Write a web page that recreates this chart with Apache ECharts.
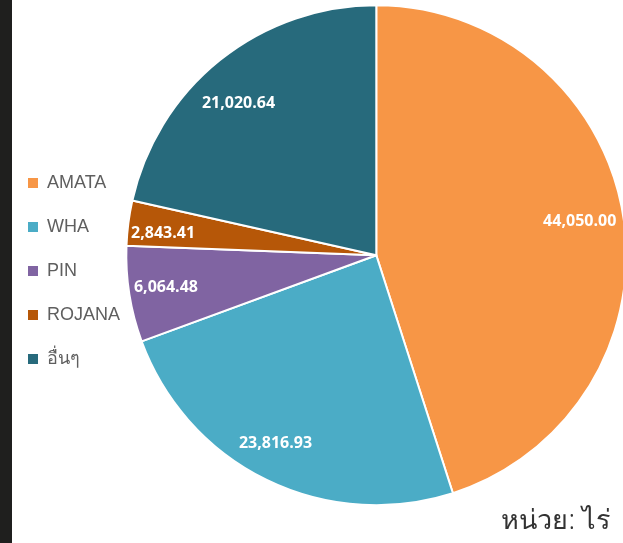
<!DOCTYPE html>
<html><head><meta charset="utf-8">
<script src="https://cdn.jsdelivr.net/npm/echarts@6/dist/echarts.min.js"></script>
<style>html,body{margin:0;padding:0;background:#fff}#c{width:623px;height:543px}</style>
</head><body><div id="c"></div>
<script>
const categories = ['AMATA', 'WHA', 'PIN', 'ROJANA', 'อื่นๆ'];
const values = [44050.00, 23816.93, 6064.48, 2843.41, 21020.64];
const colors = ['#F79646', '#4BACC6', '#8064A2', '#B65708', '#276A7C'];
const unitText = 'หน่วย: ไร่';

// label nudges (styling, per slice index)
const labelNudge = [[-8, -1], [-7, -4], [1, -1], [-1, 6], [-4, 15]];

const data = categories.map((n, i) => ({ name: n, value: values[i], itemStyle: { color: colors[i] } }));
const fmt = v => v.toLocaleString('en-US', { minimumFractionDigits: 2, maximumFractionDigits: 2 });

const chart = echarts.init(document.getElementById('c'), null, { renderer: 'canvas' });
chart.setOption({
  animation: false,
  backgroundColor: '#ffffff',
  legend: {
    orient: 'vertical', left: 21, top: 169,
    itemWidth: 12, itemHeight: 12, itemGap: 26,
    icon: 'rect',
    textStyle: { color: '#5f5f5f', fontSize: 18, fontFamily: 'Liberation Sans, Arial, sans-serif', padding: [0, 0, 0, 3] },
    data: categories
  },
  graphic: [
    { type: 'rect', left: 0, top: 0, shape: { width: 12, height: 543 }, style: { fill: '#1f1f1e' }, z: 10 },
    { type: 'text', right: 12, top: 508, style: { text: unitText, fill: '#333', font: '300 27px "Noto Sans", sans-serif' }, z: 10 }
  ],
  series: [
    {
      type: 'pie', center: ['60.4%', '47%'], radius: [0, 250],
      startAngle: 90, clockwise: true, silent: true,
      itemStyle: { borderColor: '#fff', borderWidth: 2 },
      label: { show: false }, labelLine: { show: false },
      data: data
    },
    {
      type: 'pie', center: ['60.4%', '47%'], radius: [172, 250],
      startAngle: 90, clockwise: true, silent: true,
      itemStyle: { color: 'transparent', borderWidth: 0 },
      label: {
        show: true, position: 'inside', color: '#fff', fontWeight: 'bold', fontSize: 16,
        fontFamily: 'Open Sans, Liberation Sans, sans-serif',
        formatter: p => fmt(p.value)
      },
      labelLayout: p => ({ dx: labelNudge[p.dataIndex][0], dy: labelNudge[p.dataIndex][1] }),
      labelLine: { show: false },
      data: categories.map((n, i) => ({ name: n, value: values[i], itemStyle: { color: 'transparent' } }))
    }
  ]
});
</script></body></html>
